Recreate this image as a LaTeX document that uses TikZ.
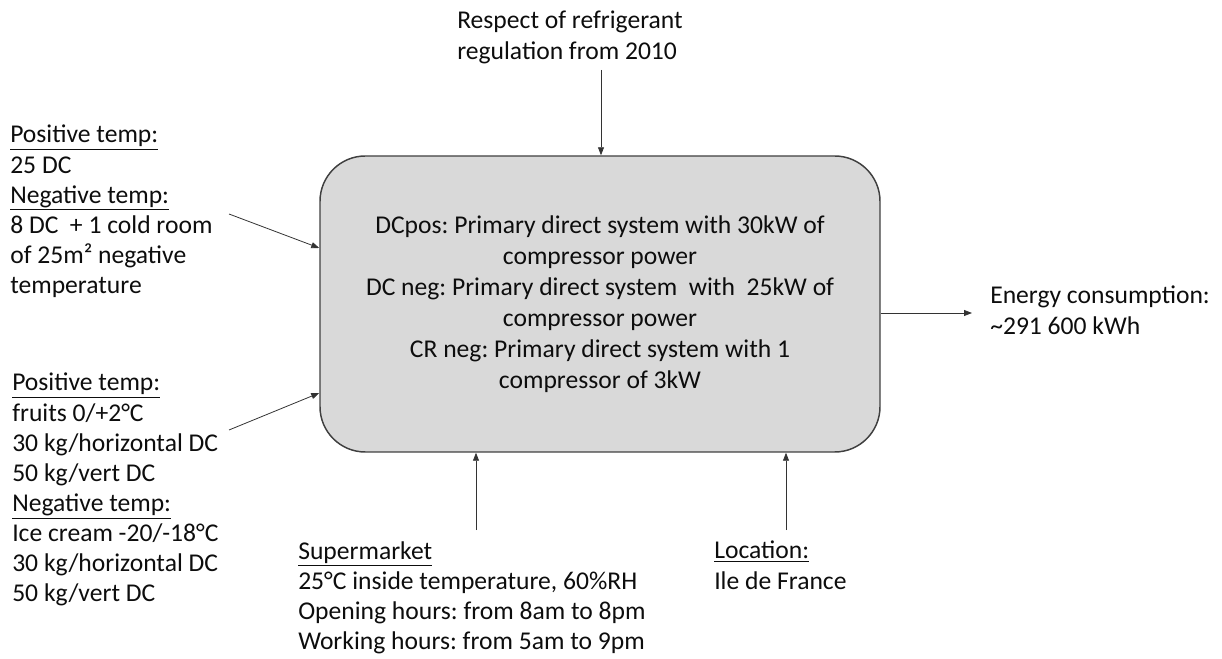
\documentclass[tikz,border=0pt]{standalone}
\usepackage{fontspec}
\setmainfont{Carlito}
\usetikzlibrary{arrows.meta}
\definecolor{boxfill}{HTML}{D9D9D9}
\definecolor{boxline}{HTML}{404040}
\definecolor{txt}{HTML}{0D0D0D}
\frenchspacing
\begin{document}
\begin{tikzpicture}[x=0.75pt,y=-0.75pt,
  lbl/.style={anchor=north west, inner sep=0pt, align=left, text=txt, font=\fontsize{19.2}{22.6}\selectfont},
  conn/.style={draw=black!80, line width=0.6pt, -{Triangle[length=6pt,width=4.5pt]}},
  proc/.style={draw=boxline, line width=1.1pt, fill=boxfill, rounded corners=34pt,
    minimum width=420pt, minimum height=222pt, align=center, text=txt, inner sep=0pt,
    font=\fontsize{19.2}{23.2}\selectfont}]
\useasboundingbox (0,0) rectangle (1222,659);

\node[proc] (box) at (600,304) {DCpos: Primary direct system with 30kW of\\compressor power\\DC neg: Primary direct system\ \ with\ \ 25kW of\\compressor power\\CR neg: Primary direct system with 1\\compressor of 3kW};

\node[lbl] (top) at (457,11) {Respect of refrigerant\\regulation from 2010};
\node[lbl] (ul) at (10,125) {\underline{Positive temp:}\\25 DC\\\underline{Negative temp:}\\8 DC\ \ + 1 cold room\\of 25m² negative\\temperature};
\node[lbl] (ll) at (12,373) {\underline{Positive temp:}\\fruits 0/+2°C\\30 kg/horizontal DC\\50 kg/vert DC\\\underline{Negative temp:}\\Ice cream -20/-18°C\\30 kg/horizontal DC\\50 kg/vert DC};
\node[lbl] (sm) at (298,541) {\underline{Supermarket}\\25°C inside temperature, 60\%RH\\Opening hours: from 8am to 8pm\\Working hours: from 5am to 9pm};
\node[lbl] (loc) at (714,541) {\underline{Location:}\\Ile de France};
\node[lbl] (en) at (990,286) {Energy consumption:\\\textasciitilde 291 600 kWh};

\coordinate (tS) at (601,70);
\coordinate (ulS) at (229,214);
\coordinate (llS) at (229,430);
\coordinate (b1S) at (476,530);
\coordinate (b2S) at (786,530);
\coordinate (eE) at (972,313);

\draw[conn] (tS) -- (tS |- box.north);
\draw[conn] (ulS) -- ([yshift=42pt]box.west);
\draw[conn] (llS) -- ([yshift=-66.75pt]box.west);
\draw[conn] (b1S) -- (b1S |- box.south);
\draw[conn] (b2S) -- (b2S |- box.south);
\draw[conn] (box.east |- eE) -- (eE);
\end{tikzpicture}
\end{document}
